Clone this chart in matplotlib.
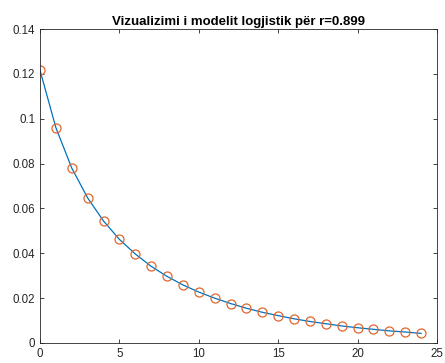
import numpy as np
import matplotlib
matplotlib.use('Agg')
import matplotlib.pyplot as plt

plt.rcParams['font.family'] = ['Liberation Sans', 'DejaVu Sans']

# iterations and population values
n_steps = list(range(25))
x_vals = [0.1216, 0.0960, 0.0780, 0.0647, 0.0544, 0.0462, 0.0397, 0.0342,
          0.0297, 0.0259, 0.0227, 0.0200, 0.0176, 0.0155, 0.0137, 0.0122,
          0.0108, 0.0096, 0.0086, 0.0076, 0.0068, 0.0061, 0.0054, 0.0049,
          0.0043]
x_ticks = [0, 5, 10, 15, 20, 25]
y_ticks = [0, 0.02, 0.04, 0.06, 0.08, 0.1, 0.12, 0.14]
y_ticklabels = ['0', '0.02', '0.04', '0.06', '0.08', '0.1', '0.12', '0.14']

fig = plt.figure(figsize=(4.45, 3.63), dpi=100)
ax = fig.add_axes([0.0899, 0.0551, 0.892, 0.865])

ax.plot(n_steps, x_vals, color='#0072BD', lw=0.9)
ax.plot(n_steps, x_vals, 'o', mfc='none', mec='#E0662F', ms=6.5, mew=0.9)

ax.set_xlim(0, 25)
ax.set_ylim(0, 0.14)
ax.set_xticks(x_ticks)
ax.set_yticks(y_ticks)
ax.set_yticklabels(y_ticklabels)
ax.tick_params(direction='in', top=True, right=True, labelsize=8.3,
               colors='#262626', length=3, width=0.6)
for s in ax.spines.values():
    s.set_color('#262626')
    s.set_linewidth(0.6)
ax.set_title('Vizualizimi i modelit logjistik për r=0.899', fontsize=9.5,
             fontweight='bold', pad=3)

fig.savefig('out.png', dpi=100)
